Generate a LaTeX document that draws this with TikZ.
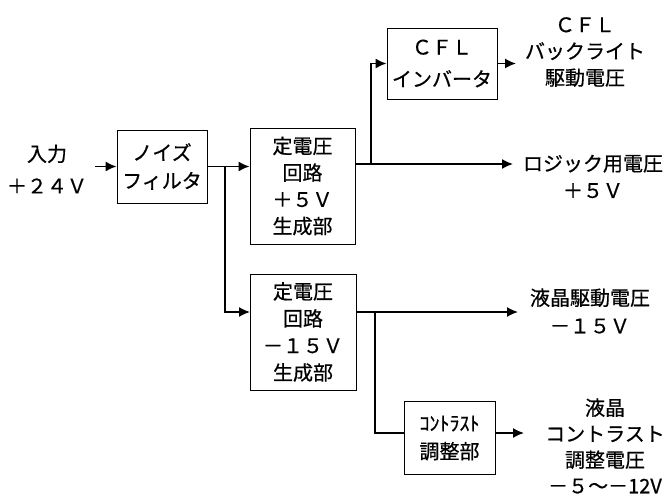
\documentclass[tikz,border=0pt]{standalone}
\usepackage{fontspec}
\setmainfont{Noto Sans CJK JP}[FakeBold=0.6]
\usetikzlibrary{arrows.meta}
\begin{document}
\begin{tikzpicture}[x=1pt,y=-1pt,
  every node/.style={font=\fontsize{20}{27}\selectfont, inner sep=0pt, align=center},
  blk/.style={draw, line width=0.9pt},
  wire/.style={line width=1.6pt},
  arr/.style={wire,-{Latex[length=11pt,width=10pt]}}
]
\useasboundingbox (0,0) rectangle (671,495);
% boxes
\node[blk, minimum width=90pt, minimum height=73pt, font=\fontsize{20}{28}\selectfont] (nf) at (162,166.5) {ノイズ\\フィルタ};
\node[blk, minimum width=105pt, minimum height=116pt, font=\fontsize{20}{26.7}\selectfont] (p5) at (302.5,186) {定電圧\\回路\\＋５Ｖ\\生成部};
\node[blk, minimum width=110pt, minimum height=71pt, font=\fontsize{20}{32}\selectfont] (cfl) at (442,63.5) {ＣＦＬ\\インバータ};
\node[blk, minimum width=106pt, minimum height=116pt, font=\fontsize{20}{27}\selectfont] (m15) at (303,332) {定電圧\\回路\\－１５Ｖ\\生成部};
\node[blk, minimum width=91pt, minimum height=73pt, font=\fontsize{20}{28}\selectfont] (con) at (449.5,438) {ｺﾝﾄﾗｽﾄ\\調整部};
% labels
\node[font=\fontsize{20}{32}\selectfont] (inL) at (47,169) {入力\\＋２４Ｖ};
\node[font=\fontsize{20}{26.5}\selectfont] (cflL) at (585,52) {ＣＦＬ\\バックライト\\駆動電圧};
\node[font=\fontsize{20}{27}\selectfont] (logicL) at (593,176.5) {ロジック用電圧\\＋５Ｖ};
\node[font=\fontsize{20}{28}\selectfont] (lcdL) at (590,311) {液晶駆動電圧\\－１５Ｖ};
\node[font=\fontsize{20}{26}\selectfont] (conL) at (605,446) {液晶\\コントラスト\\調整電圧\\－５～－12V};
% coordinates
\coordinate (inA) at (95,166.5);
\coordinate (b1) at (225,166.5);
\coordinate (m15in) at (250,312);
\coordinate (p5out) at (355,164);
\coordinate (b2) at (371,164);
\coordinate (logicIn) at (513,164);
\coordinate (cflOut) at (516,63.5);
\coordinate (m15out) at (356,312);
\coordinate (b3) at (375,312);
\coordinate (lcdIn) at (518,312);
\coordinate (conIn) at (404,433);
\coordinate (conOut) at (495,433);
\coordinate (conTip) at (524,433);
% connectors
\draw[arr] (inA) -- (nf.west);
\draw[arr] (nf.east) -- (p5.west |- nf.east);
\draw[arr] (b1) |- (m15in);
\draw[arr] (p5out) -- (logicIn);
\draw[arr] (b2) |- (cfl.west);
\draw[arr] (cfl.east) -- (cflOut);
\draw[arr] (m15out) -- (lcdIn);
\draw[wire] (b3) |- (conIn);
\draw[arr] (conOut) -- (conTip);
\end{tikzpicture}
\end{document}
